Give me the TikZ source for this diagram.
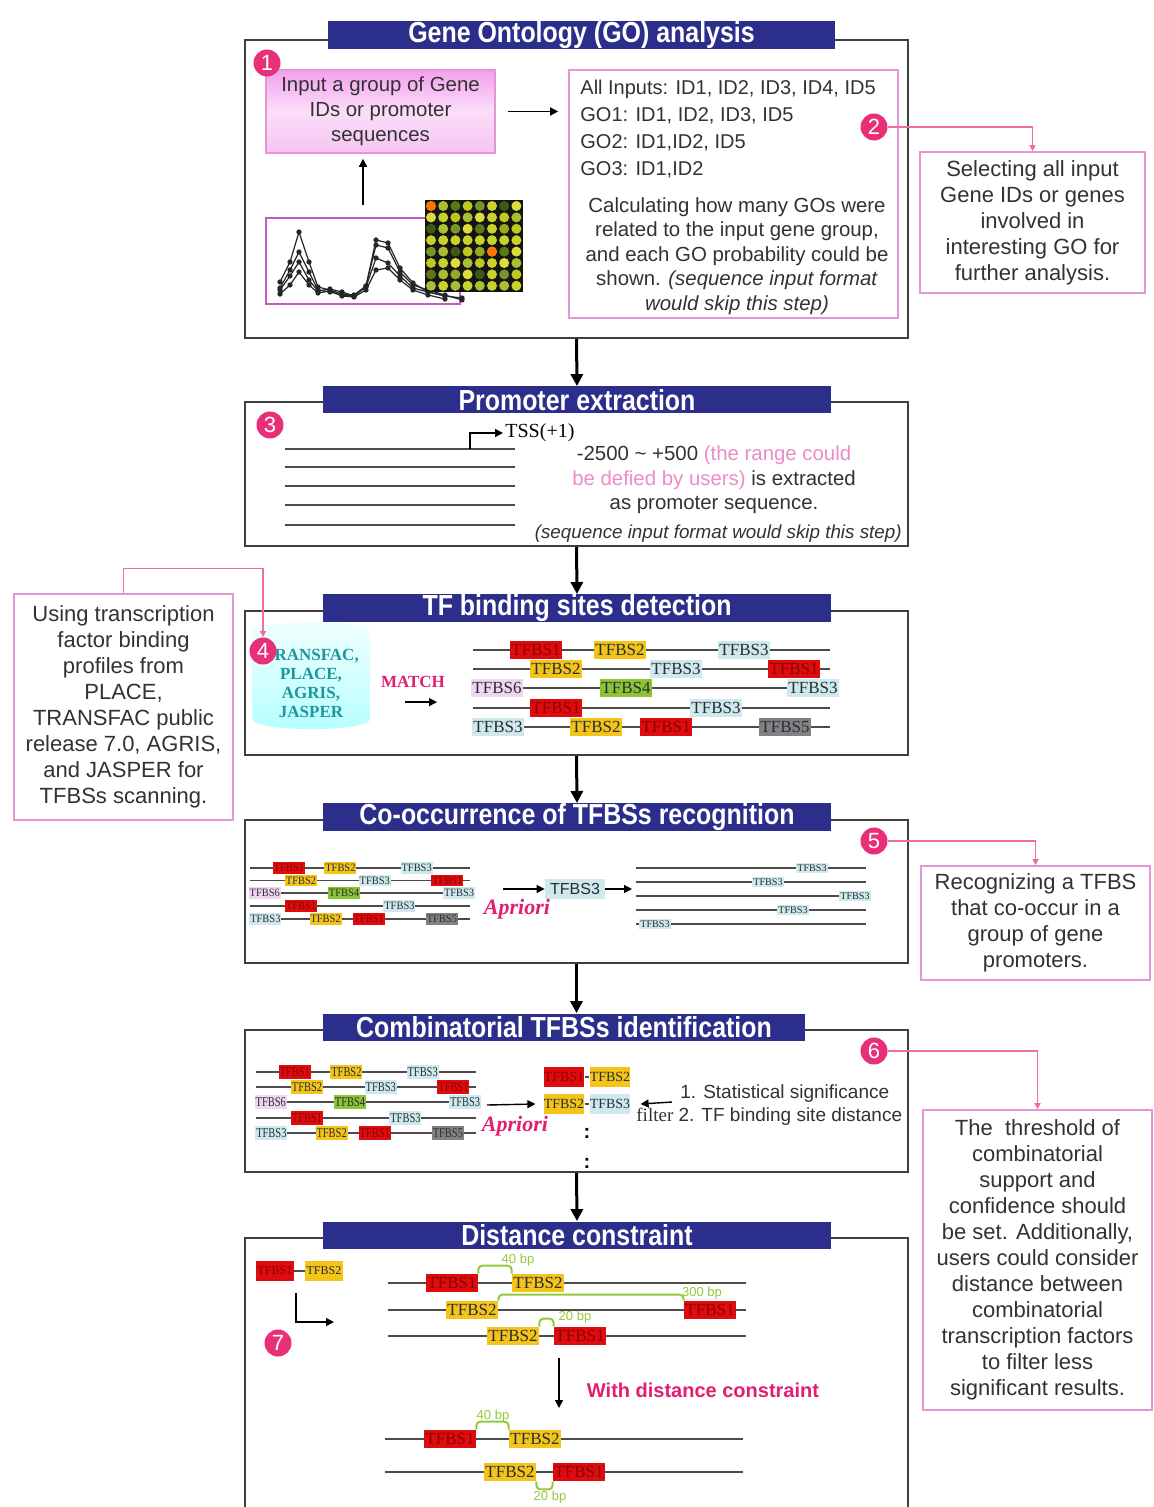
\documentclass[tikz,border=0pt]{standalone}
\usepackage{fontspec}
\setmainfont{Liberation Sans}
\newfontfamily\serifface{Liberation Serif}
\newfontfamily\headface{Liberation Sans}[FakeStretch=0.86]
\usetikzlibrary{shapes.geometric,arrows.meta,positioning}

\definecolor{headblue}{RGB}{44,46,140}
\definecolor{stepcol}{RGB}{232,48,120}
\definecolor{notepink}{RGB}{228,150,212}
\definecolor{chartpink}{RGB}{200,90,190}
\definecolor{txtgray}{RGB}{50,50,50}
\definecolor{rangepink}{RGB}{236,140,200}
\definecolor{accent}{RGB}{226,30,110}
\definecolor{sitered}{RGB}{222,12,14}
\definecolor{darkred}{RGB}{140,0,0}
\definecolor{siteyel}{RGB}{244,196,24}
\definecolor{siteblue}{RGB}{206,232,236}
\definecolor{sitegreen}{RGB}{140,196,52}
\definecolor{sitegray}{RGB}{130,130,130}
\definecolor{sitelilac}{RGB}{240,212,240}
\definecolor{sitetext}{RGB}{40,45,55}
\definecolor{bpgreen}{RGB}{150,200,60}
\definecolor{dbteal}{RGB}{30,150,160}
% spot colours of the array
\definecolor{dot0}{RGB}{150,170,30}
\definecolor{dot1}{RGB}{200,210,40}
\definecolor{dot2}{RGB}{90,120,20}
\definecolor{dot3}{RGB}{220,220,60}
\definecolor{dot4}{RGB}{120,150,40}
\definecolor{dot5}{RGB}{170,190,50}
\definecolor{dot6}{RGB}{60,90,20}
\definecolor{dot7}{RGB}{190,200,30}

\tikzset{
  secbox/.style={draw=black!75, line width=1pt, minimum width=331.5pt, inner sep=0pt},
  headbar/.style={fill=headblue, text=white, font=\headface\bfseries\fontsize{14.5}{14.5}\selectfont, minimum height=13.5pt, inner sep=0pt},
  stepnum/.style={circle, fill=stepcol, text=white, font=\fontsize{11}{11}\selectfont, minimum size=13.5pt, inner sep=0pt},
  note/.style={draw=notepink, line width=0.8pt, align=center, text=txtgray, font=\fontsize{11}{13}\selectfont, inner sep=2pt},
  maintext/.style={text=txtgray, font=\fontsize{10.2}{12.3}\selectfont, inner sep=0pt},
  flow/.style={line width=1.5pt, -{Triangle[length=6pt,width=6pt]}},
  pinkline/.style={draw=stepcol!70, line width=0.6pt, -{Triangle[length=3pt,width=3pt]}},
  thinarrow/.style={line width=0.7pt, -{Triangle[length=4pt,width=4pt]}},
  seqline/.style={draw=black!70, line width=0.9pt},
  site/.style={minimum width=26pt, minimum height=9pt, inner sep=0pt, text=sitetext, font=\serifface\fontsize{8.5}{8.5}\selectfont},
  smallsite/.style={site, minimum width=19pt, minimum height=10pt, font=\serifface\fontsize{7}{7}\selectfont},
  bracket/.style={draw=bpgreen, line width=1pt, rounded corners=2pt},
  bplabel/.style={text=bpgreen, font=\fontsize{6.5}{6.5}\selectfont, inner sep=0pt},
  apriori/.style={text=accent, font=\serifface\bfseries\itshape\fontsize{11}{11}\selectfont, inner sep=0pt},
  siterows/.pic={
    \foreach \dy in {0,19,38,58,77}
      \draw[seqline] (0,\dy) -- (357,\dy);
    \foreach \dy/\cx/\fc/\tc/\lab [count=\k] in {
        0/63/sitered/darkred/TFBS1, 0/147/siteyel/sitetext/TFBS2, 0/271/siteblue/sitetext/TFBS3,
        19/83/siteyel/sitetext/TFBS2, 19/203/siteblue/sitetext/TFBS3, 19/321/sitered/darkred/TFBS1,
        38/24/sitelilac/sitetext/TFBS6, 38/153/sitegreen/sitetext/TFBS4, 38/340/siteblue/sitetext/TFBS3,
        58/83/sitered/darkred/TFBS1, 58/243/siteblue/sitetext/TFBS3,
        77/25/siteblue/sitetext/TFBS3, 77/123/siteyel/sitetext/TFBS2, 77/193/sitered/darkred/TFBS1,
        77/312/sitegray/sitetext/TFBS5}
      \node[site, fill=\fc, text=\tc] (-s\k) at (\cx,\dy) {\lab};
  }
}

\begin{document}
\begin{tikzpicture}[x=0.5pt, y=-0.5pt]
  \clip (0,0) rectangle (1153,1507);
  \fill[white] (0,0) rectangle (1153,1507);

  % section boxes and their headers
  \node[secbox, minimum height=149pt] (sec1) at (576.5,189) {};
  \node[secbox, minimum height=72pt] (sec2) at (576.5,474) {};
  \node[secbox, minimum height=72pt] (sec3) at (576.5,683) {};
  \node[secbox, minimum height=71.5pt] (sec4) at (576.5,891.5) {};
  \node[secbox, minimum height=71pt] (sec5) at (576.5,1101) {};
  \node[secbox, minimum height=151pt] (sec6) at (576.5,1389) {};
  \node[headbar, minimum width=253.5pt] (hd1) at (581.5,35) {Gene Ontology (GO) analysis};
  \node[headbar, minimum width=254pt] (hd2) at (577,400) {Promoter extraction};
  \node[headbar, minimum width=254pt] (hd3) at (577,608) {TF binding sites detection};
  \node[headbar, minimum width=254pt] (hd4) at (577,817) {Co-occurrence of TFBSs recognition};
  \node[headbar, minimum width=241pt] (hd5) at (564,1027) {Combinatorial TFBSs identification};
  \node[headbar, minimum width=254pt] (hd6) at (577,1235) {Distance constraint};
  \draw[flow] (sec1.south) -- (hd2.north);
  \draw[flow] (sec2.south) -- (hd3.north);
  \draw[flow] (sec3.south) -- (hd4.north);
  \draw[flow] (sec4.south) -- (sec4.south |- hd5.north);
  \draw[flow] (sec5.south) -- (hd6.north);

  % side notes
  \node[note, minimum width=112.5pt, minimum height=70.5pt] (note2) at (1032.5,222.5)
    {Selecting all input\\Gene IDs or genes\\involved in\\interesting GO for\\further analysis.};
  \node[note, minimum width=109.5pt, minimum height=113pt] (note4) at (123.5,707)
    {Using transcription\\factor binding\\profiles from\\PLACE,\\TRANSFAC public\\release 7.0, AGRIS,\\and JASPER for\\TFBSs scanning.};
  \node[note, minimum width=114.5pt, minimum height=57pt] (note5) at (1035.5,923)
    {Recognizing a TFBS\\that co-occur in a\\group of gene\\promoters.};
  \node[note, minimum width=114.5pt, minimum height=150pt] (note6) at (1037.5,1260)
    {The\ \ threshold of\\combinatorial\\support and\\confidence should\\be set. Additionally,\\users could consider\\distance between\\combinatorial\\transcription factors\\to filter less\\significant results.};

  % 1: GO analysis
  \node[draw=notepink, line width=0.8pt, top color={rgb,255:red,244;green,160;blue,238}, bottom color={rgb,255:red,246;green,196;blue,242}, middle color={rgb,255:red,250;green,222;blue,248},
        minimum width=114.5pt, minimum height=41.5pt, align=center, text=txtgray,
        font=\fontsize{10.2}{12.5}\selectfont] (inbox) at (380.5,111.5) {Input a group of Gene\\IDs or promoter\\sequences};
  \node[draw=notepink, line width=0.8pt, minimum width=164.5pt, minimum height=124pt] (golist) at (733.5,194) {};
  \node[maintext, anchor=north west, align=left, font=\fontsize{10}{13.4}\selectfont] (golines) at (580,80)
    {All Inputs: ID1, ID2, ID3, ID4, ID5\\GO1: ID1, ID2, ID3, ID5\\GO2: ID1,ID2, ID5\\GO3: ID1,ID2};
  \node[maintext, align=center] (gocalc) at (737,256)
    {Calculating how many GOs were\\related to the input gene group,\\and each GO probability could be\\shown. \textit{(sequence input format}\\\textit{would skip this step)}};
  \draw[thinarrow, shorten <=6pt, shorten >=5pt] (inbox.east) -- (inbox.east -| golist.west);
  \node[draw=chartpink, line width=0.8pt, minimum width=97pt, minimum height=43pt] (chart) at (363,261) {};
  \draw[thinarrow] ([yshift=6pt]chart.north) -- ([yshift=-2.5pt]chart.north |- inbox.south);
  \foreach \pts in {
      {(280,282) (290,262) (299,232) (309,262) (318,287) (330,290) (342,294) (354,295) (366,286) (376,240) (388,243) (400,268) (413,283) (428,292) (445,296) (462,298)},
      {(280,288) (290,270) (299,252) (309,272) (318,290) (330,292) (342,295) (354,296) (366,286) (376,245) (388,248) (400,272) (413,285) (428,290) (445,295) (462,300)},
      {(280,290) (290,276) (299,262) (309,280) (318,291) (330,289) (342,292) (354,296) (366,287) (376,258) (388,263) (400,276) (413,288) (428,292) (445,296)},
      {(280,294) (290,285) (299,272) (309,285) (318,293) (330,291) (342,296) (354,297) (366,290) (376,270) (388,268) (400,280) (413,290) (428,295) (445,299)}}
    \draw[black!85, line width=0.6pt] plot[mark=*, mark size=1pt] coordinates \pts;
  \fill[black!92] (425,200) rectangle (523,292);
  \foreach \i in {0,...,7}
    \foreach \j in {0,...,7} {
      \pgfmathtruncatemacro\k{mod(\i*5+\j*3+\i*\j,8)}
      \fill[dot\k] (431+\i*12.2,206+\j*11.4) circle (2.5pt);
    }
  \fill[orange!90!red] (431,206) circle (2.5pt);
  \fill[orange!90!red] (492,251.6) circle (2.5pt);
  \node[stepnum] (st1) at (267,63) {1};
  \node[stepnum] (st2) at (874,127) {2};
  \draw[pinkline] (st2.east) -| (note2.north);

  % 2: promoter extraction
  \node[stepnum] (st3) at (270,425) {3};
  \foreach \y in {449,467,486,505,525}
    \draw[seqline] (285,\y) -- (515,\y);
  \coordinate (tss) at (470,449);
  \node[anchor=west, inner sep=1pt, text=black, font=\serifface\fontsize{10}{10}\selectfont] (tsslab) at (503,433) {TSS(+1)};
  \draw[thinarrow] (tss) |- (tsslab.west);
  \node[maintext, align=center] (range) at (714,480)
    {-2500 \textasciitilde{} +500 \textcolor{rangepink}{(the range could}\\\textcolor{rangepink}{be defied by users)} is extracted\\as promoter sequence.};
  \node[maintext, anchor=east, font=\fontsize{9.4}{10}\selectfont] (skip2) at (902,534) {\textit{(sequence input format would skip this step)}};

  % 3: TF binding sites detection
  \node[cylinder, shape border rotate=90, aspect=0.18, minimum width=59pt, minimum height=43pt,
        top color=cyan!6, bottom color=cyan!28, draw=none, text=dbteal, align=center,
        font=\serifface\bfseries\fontsize{8.5}{9.5}\selectfont] (db) at (311,683) {TRANSFAC,\\PLACE,\\AGRIS,\\JASPER};
  \node[stepnum] (st4) at (263,651) {4};
  \draw[pinkline] (note4.north) -- ++(0,-25) -| (st4.north);
  \node[text=accent, font=\serifface\bfseries\fontsize{8.5}{8.5}\selectfont, inner sep=0pt] (match) at (413,682) {MATCH};
  \draw[thinarrow] ([xshift=-4pt,yshift=-7pt]match.south) -- ([xshift=12pt,yshift=-7pt]match.south);
  \pic (det) at (473,650) {siterows};

  % 4: co-occurrence
  \node[stepnum] (st5) at (874,841) {5};
  \draw[pinkline] (st5.east) -| (note5.north);
  \pic[xscale=0.615, yscale=0.66, transform shape] (cooc) at (250,868) {siterows};
  \coordinate (coocout) at (503,889);
  \node[site, fill=siteblue, minimum width=30pt, minimum height=10pt, font=\fontsize{8}{8}\selectfont] (tf3) at (575,889) {TFBS3};
  \draw[thinarrow] (coocout) -- (tf3.west);
  \node[apriori] (apr1) at (517,909) {Apriori};
  \coordinate (hits) at (632,889);
  \draw[thinarrow] (tf3.east) -- (hits);
  \foreach \y/\cx [count=\k] in {868/812, 882/768, 896/855, 910/793, 924/655} {
    \draw[seqline] (636,\y) -- (866,\y);
    \node[site, fill=siteblue, scale=0.6] (hit\k) at (\cx,\y) {TFBS3};
  }

  % 5: combinatorial TFBSs
  \node[stepnum] (st6) at (874,1051) {6};
  \draw[pinkline] (st6.east) -| (note6.north);
  \pic[xscale=0.615, yscale=0.79, transform shape] (comb) at (256,1072) {siterows};
  \coordinate (combout) at (487,1105);
  \node[smallsite, fill=sitered, text=darkred] (pr1) at (564,1077) {TFBS1};
  \node[smallsite, fill=siteyel] (pr2) at (610,1077) {TFBS2};
  \node[smallsite, fill=siteyel] (pr3) at (564,1104) {TFBS2};
  \node[smallsite, fill=siteblue] (pr4) at (610,1104) {TFBS3};
  \draw[seqline] (pr1) -- (pr2);
  \draw[seqline] (pr3) -- (pr4);
  \draw[thinarrow] (combout) -- ([xshift=-4pt]pr3.west);
  \node[apriori] (apr2) at (515,1126) {Apriori};
  \node[font=\bfseries, inner sep=0pt] (more1) at (587,1133) {:};
  \node[font=\bfseries, inner sep=0pt] (more2) at (587,1163) {:};
  \node[maintext, anchor=west, font=\fontsize{9.5}{10}\selectfont] (filt1) at (680,1094) {1. Statistical significance};
  \node[maintext, anchor=west, font=\fontsize{9.5}{10}\selectfont] (filt2) at (636,1117) {{\serifface filter} 2. TF binding site distance};
  \coordinate (filtin) at (672,1102);
  \draw[thinarrow] (filtin) -- ([xshift=5pt]pr4.east);

  % 6: distance constraint
  \node[smallsite, fill=sitered, text=darkred, font=\serifface\fontsize{6}{6}\selectfont] (pr5) at (275,1271) {TFBS1};
  \node[smallsite, fill=siteyel, font=\serifface\fontsize{6}{6}\selectfont] (pr6) at (324,1271) {TFBS2};
  \draw[seqline] (pr5) -- (pr6);
  \coordinate (elb) at (296,1293);
  \coordinate (elbend) at (334,1322);
  \draw[thinarrow] (elb) |- (elbend);
  \node[stepnum] (st7) at (278,1343) {7};
  \foreach \y in {1283,1310,1336}
    \draw[seqline] (388,\y) -- (746,\y);
  \foreach \y in {1439,1472}
    \draw[seqline] (385,\y) -- (743,\y);
  \node[site, fill=sitered, text=darkred] (da1) at (452,1283) {TFBS1};
  \node[site, fill=siteyel] (da2) at (538,1283) {TFBS2};
  \node[site, fill=siteyel] (db2) at (472,1310) {TFBS2};
  \node[site, fill=sitered, text=darkred] (db1) at (710,1310) {TFBS1};
  \node[site, fill=siteyel] (dc2) at (513,1336) {TFBS2};
  \node[site, fill=sitered, text=darkred] (dc1) at (580,1336) {TFBS1};
  \node[site, fill=sitered, text=darkred] (dd1) at (450,1439) {TFBS1};
  \node[site, fill=siteyel] (dd2) at (535,1439) {TFBS2};
  \node[site, fill=siteyel] (de2) at (510,1472) {TFBS2};
  \node[site, fill=sitered, text=darkred] (de1) at (579,1472) {TFBS1};
  \draw[bracket] (da1.north east) |- ([yshift=4pt]da2.north west) -- (da2.north west);
  \draw[bracket] (db2.north east) |- ([yshift=3pt]db1.north west) -- (db1.north west);
  \draw[bracket] (dc2.north east) |- ([yshift=4pt]dc1.north west) -- (dc1.north west);
  \draw[bracket] (dd1.north east) |- ([yshift=4pt]dd2.north west) -- (dd2.north west);
  \draw[bracket] (de2.south east) |- ([yshift=-4pt]de1.south west) -- (de1.south west);
  \node[bplabel] (bpa) at (518,1260) {40 bp};
  \node[bplabel] (bpb) at (702,1293) {300 bp};
  \node[bplabel] (bpc) at (575,1317) {20 bp};
  \node[bplabel] (bpd) at (493,1416) {40 bp};
  \node[bplabel] (bpe) at (550,1497) {20 bp};
  \coordinate (cut) at (559,1358);
  \coordinate (kept) at (559,1408);
  \draw[thinarrow] (cut) -- (kept);
  \node[text=accent, font=\bfseries\fontsize{10}{10}\selectfont, inner sep=0pt] (withdc) at (703,1390) {With distance constraint};
\end{tikzpicture}
\end{document}
